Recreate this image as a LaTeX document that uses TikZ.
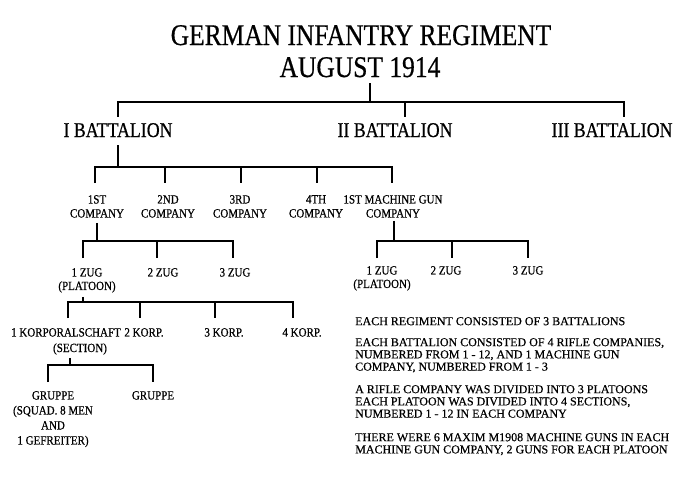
\documentclass[tikz,border=0pt]{standalone}
\usepackage{fontspec}
\setmainfont{Liberation Serif}[FakeBold=0.5]
\newfontfamily\condfont[FakeStretch=0.85,FakeBold=0.6]{Liberation Serif}
\newfontfamily\lblfont[FakeStretch=0.88,FakeBold=0.6]{Liberation Serif}
\newfontfamily\notefont[FakeBold=0.5]{Liberation Serif}
\begin{document}
\begin{tikzpicture}[x=1pt,y=-1pt,
  ttl/.style={inner sep=0pt, anchor=base, font=\condfont\fontsize{30}{32}\selectfont},
  bat/.style={inner sep=0pt, anchor=base, font=\condfont\fontsize{21}{23}\selectfont},
  lbl/.style={inner sep=0pt, align=center, font=\lblfont\fontsize{12.5}{14}\selectfont},
  note/.style={inner sep=0pt, align=left, anchor=north west, font=\notefont\fontsize{12}{12.2}\selectfont},
  conn/.style={line width=2.6pt}]
\fill[white] (0,0) rectangle (675,480);
\useasboundingbox (0,0) rectangle (675,480);

% title
\node[ttl] (t1) at (361,45) {GERMAN INFANTRY REGIMENT};
\node[ttl] (t2) at (360,77) {AUGUST 1914};
\coordinate (b0) at (0,102);

% battalions
\node[bat] (bat1) at (118,137) {I BATTALION};
\node[bat] (bat2) at (395,137) {II BATTALION};
\node[bat] (bat3) at (612,137) {III BATTALION};
\draw[conn, line width=2.2pt, shorten <=6pt] (370,0 |- t2.south) -- (370,0 |- b0);
\draw[conn, shorten <=6pt, shorten >=6pt] (bat1.north) -- (bat1.north |- b0) -- (624,0 |- b0) -- (624,0 |- bat3.north);
\draw[conn, shorten >=6pt] (405,0 |- b0) -- (405,0 |- bat2.north);

% companies
\coordinate (b1) at (0,167);
\node[lbl, anchor=north] (c1) at (97,195) {1ST\\COMPANY};
\node[lbl, anchor=north] (c2) at (168,195) {2ND\\COMPANY};
\node[lbl, anchor=north] (c3) at (240,195) {3RD\\COMPANY};
\node[lbl, anchor=north] (c4) at (316,195) {4TH\\COMPANY};
\node[lbl, anchor=north] (mg) at (393,195) {1ST MACHINE GUN\\COMPANY};
\draw[conn, shorten <=8pt] (118,0 |- bat1.south) -- (118,0 |- b1);
\draw[conn, shorten <=12pt, shorten >=12pt] (95,0 |- c1.north) -- (95,0 |- b1) -- (392,0 |- b1) -- (392,0 |- mg.north);
\draw[conn, shorten >=12pt] (165,0 |- b1) -- (165,0 |- c2.north);
\draw[conn, shorten >=12pt] (241,0 |- b1) -- (241,0 |- c3.north);
\draw[conn, shorten >=12pt] (317,0 |- b1) -- (317,0 |- c4.north);

% rifle company platoons
\coordinate (b2) at (0,241);
\node[lbl, anchor=north, font=\lblfont\fontsize{12.5}{13.5}\selectfont] (z1) at (87,268) {1 ZUG\\(PLATOON)};
\node[lbl, anchor=north] (z2) at (163,268) {2 ZUG};
\node[lbl, anchor=north] (z3) at (235,268) {3 ZUG};
\draw[conn, shorten <=5pt] (97,0 |- c1.south) -- (97,0 |- b2);
\draw[conn, shorten <=10pt, shorten >=10pt] (83,0 |- z1.north) -- (83,0 |- b2) -- (233,0 |- b2) -- (233,0 |- z3.north);
\draw[conn, shorten >=10pt] (157,0 |- b2) -- (157,0 |- z2.north);

% sections
\coordinate (b3) at (0,302);
\node[lbl, anchor=north] (k1) at (66,328) {1 KORPORALSCHAFT};
\node[lbl, anchor=base] (k1b) at (80,352) {(SECTION)};
\node[lbl, anchor=north] (k2) at (144,328) {2 KORP.};
\node[lbl, anchor=north] (k3) at (224,328) {3 KORP.};
\node[lbl, anchor=north] (k4) at (302,328) {4 KORP.};
\draw[conn, shorten <=4pt] (83,0 |- z1.south) -- (83,0 |- b3);
\draw[conn, shorten <=10pt, shorten >=10pt] (68,0 |- k1.north) -- (68,0 |- b3) -- (293,0 |- b3) -- (293,0 |- k4.north);
\draw[conn, shorten >=10pt] (140,0 |- b3) -- (140,0 |- k2.north);
\draw[conn, shorten >=10pt] (215,0 |- b3) -- (215,0 |- k3.north);

% gruppen
\coordinate (b4) at (0,365);
\node[lbl, anchor=north, font=\lblfont\fontsize{12.5}{15}\selectfont] (g1) at (53,391) {GRUPPE\\(SQUAD. 8 MEN\\AND\\1 GEFREITER)};
\node[lbl, anchor=north] (g2) at (153,391) {GRUPPE};
\draw[conn, shorten <=3pt] (70,0 |- k1b.south) -- (70,0 |- b4);
\draw[conn, shorten <=9pt, shorten >=9pt] (48,0 |- g1.north) -- (48,0 |- b4) -- (153,0 |- b4) -- (153,0 |- g2.north);

% machine gun company platoons
\coordinate (b5) at (0,241);
\node[lbl, anchor=north, font=\lblfont\fontsize{12.5}{13.5}\selectfont] (mz1) at (382,266) {1 ZUG\\(PLATOON)};
\node[lbl, anchor=north] (mz2) at (446,266) {2 ZUG};
\node[lbl, anchor=north] (mz3) at (528,266) {3 ZUG};
\draw[conn, shorten <=3pt] (394,0 |- mg.south) -- (394,0 |- b5);
\draw[conn, shorten <=8pt, shorten >=8pt] (377,0 |- mz1.north) -- (377,0 |- b5) -- (528,0 |- b5) -- (528,0 |- mz3.north);
\draw[conn, shorten >=8pt] (452,0 |- b5) -- (452,0 |- mz2.north);

% notes
\node[note] (n1) at (355,317) {EACH REGIMENT CONSISTED OF 3 BATTALIONS};
\node[note] (n2) at (355,338) {EACH BATTALION CONSISTED OF 4 RIFLE COMPANIES,\\NUMBERED FROM 1 - 12, AND 1 MACHINE GUN\\COMPANY, NUMBERED FROM 1 - 3};
\node[note] (n3) at (355,385) {A RIFLE COMPANY WAS DIVIDED INTO 3 PLATOONS\\EACH PLATOON WAS DIVIDED INTO 4 SECTIONS,\\NUMBERED 1 - 12 IN EACH COMPANY};
\node[note] (n4) at (355,433) {THERE WERE 6 MAXIM M1908 MACHINE GUNS IN EACH\\MACHINE GUN COMPANY, 2 GUNS FOR EACH PLATOON};
\end{tikzpicture}
\end{document}
